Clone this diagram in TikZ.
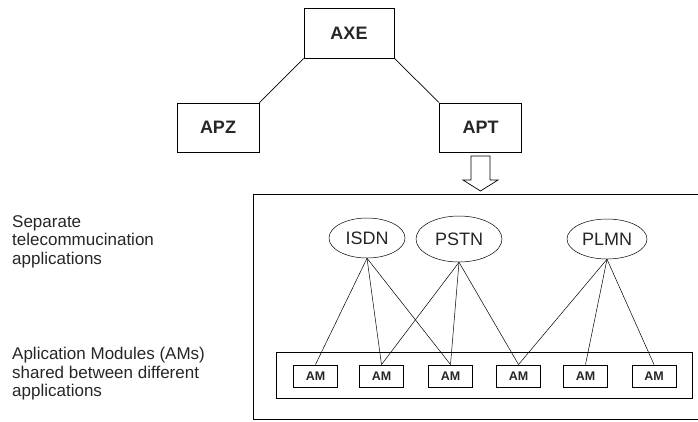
\documentclass[tikz,border=0pt]{standalone}
\usepackage{fontspec}
\setmainfont{Liberation Sans}
\usetikzlibrary{shapes.geometric}
\begin{document}
\begin{tikzpicture}[x=1pt,y=-1pt,
  topbox/.style={draw=black,line width=0.9pt,minimum width=#1,minimum height=49pt,inner sep=0pt,font=\fontsize{18}{20}\selectfont\bfseries,text=black!85},
  topbox/.default=82pt,
  app/.style={draw=black,line width=0.5pt,ellipse,inner sep=0pt,font=\fontsize{18}{20}\selectfont,text=black!85},
  ambox/.style={draw=black,line width=0.9pt,minimum width=44pt,minimum height=22pt,inner sep=0pt,font=\fontsize{12.5}{14}\selectfont\bfseries,text=black!85},
  link/.style={draw=black,line width=0.5pt},
  note/.style={align=left,anchor=north west,inner sep=0pt,font=\fontsize{17}{18.5}\selectfont,text=black!85}]
\useasboundingbox (0,0) rectangle (698,421);
% top hierarchy
\node[topbox=90pt,minimum height=50pt] (axe) at (349,33) {AXE};
\node[topbox] (apz) at (218,127.5) {APZ};
\node[topbox] (apt) at (480.5,127.5) {APT};
\draw[line width=0.7pt] (axe.south west) -- (apz.north east);
\draw[line width=0.7pt] (axe.south east) -- (apt.north west);
% hollow arrow
\draw[line width=0.7pt,fill=white] (471,156) -- (490,156) -- (490,180) -- (498,180) -- (480.5,191) -- (463,180) -- (471,180) -- cycle;
% big box (open on the right, cut by the page)
\draw[line width=0.9pt] (698,194) -- (253,194) -- (253,419.5) -- (698,419.5);
% applications
\node[app,minimum width=76pt,minimum height=40pt] (isdn) at (367,238) {ISDN};
\node[app,minimum width=86pt,minimum height=46pt] (pstn) at (459,239) {PSTN};
\node[app,minimum width=80pt,minimum height=40pt] (plmn) at (607,239) {PLMN};
% AM container
\draw[line width=0.9pt] (276,352) rectangle (692,398);
\node[ambox] (am1) at (315.5,376) {AM};
\node[ambox] (am2) at (381.5,376) {AM};
\node[ambox] (am3) at (450.5,376) {AM};
\node[ambox] (am4) at (518.5,376) {AM};
\node[ambox] (am5) at (585.5,376) {AM};
\node[ambox] (am6) at (654,376) {AM};
% links
\draw[link] (isdn.south) -- (am1.north);
\draw[link] (isdn.south) -- (am2.north);
\draw[link] (isdn.south) -- (am3.north);
\draw[link] (pstn.south) -- (am2.north);
\draw[link] (pstn.south) -- (am3.north);
\draw[link] (pstn.south) -- (am4.north);
\draw[link] (plmn.south) -- (am4.north);
\draw[link] (plmn.south) -- (am5.north);
\draw[link] (plmn.south) -- (am6.north);
% notes
\node[note] (n1) at (12,215) {Separate\\telecommucination\\applications};
\node[note] (n2) at (12,347) {Aplication Modules (AMs)\\shared between different\\applications};
\end{tikzpicture}
\end{document}
